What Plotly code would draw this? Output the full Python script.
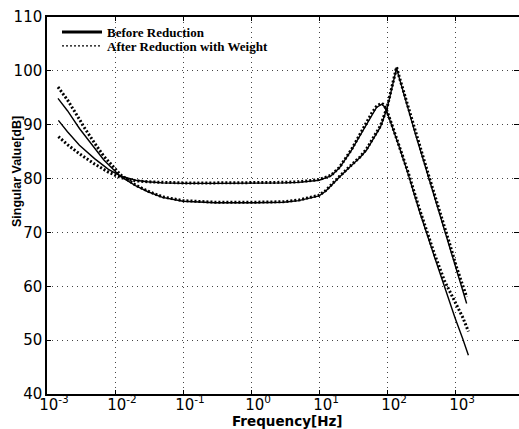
import plotly.graph_objects as go

# ---- data ----
freq_a = [1.47e-3, 2e-3, 3e-3, 5e-3, 8e-3, 1.2e-2, 2e-2, 3e-2, 5e-2, 0.1, 0.3, 1, 3, 5, 10, 15, 20, 30, 40,
          50, 60, 70, 83, 91, 100, 120, 150, 200, 300, 500, 700, 1000, 1300, 1570]
sv1_before = [90.8, 88.7, 86.2, 83.7, 81.7, 80.5, 79.7, 79.4, 79.2, 79.1, 79.1, 79.1, 79.2, 79.3, 79.7, 80.5,
              82.0, 85.3, 88.0, 90.3, 92.0, 93.2, 93.8, 93.4, 92.3, 89.5, 86.0, 81.2, 73.9, 65.4, 59.8, 54.1,
              50.2, 47.2]
sv1_after = [87.8, 86.3, 84.6, 82.7, 81.2, 80.2, 79.6, 79.4, 79.3, 79.2, 79.2, 79.2, 79.3, 79.4, 79.8, 80.6,
             82.1, 85.4, 88.2, 90.5, 92.2, 93.4, 94.0, 93.6, 92.5, 89.7, 86.2, 81.5, 74.3, 65.9, 61.0, 57.0,
             54.2, 51.6]

freq_b = [1.45e-3, 2e-3, 3e-3, 3.4e-3, 5e-3, 6.8e-3, 1.2e-2, 2e-2, 3e-2, 5e-2, 0.1, 0.3, 1, 3, 5, 10, 12.6,
          15.8, 20, 28.6, 40, 50, 63, 80, 100, 112, 126, 138, 151, 178, 219, 269, 339, 427, 537, 676, 851,
          1047, 1259, 1480]
sv2_before = [94.9, 92.6, 89.3, 88.4, 85.5, 83.5, 80.4, 78.7, 77.6, 76.5, 75.8, 75.5, 75.5, 75.6, 75.9, 76.8,
              77.7, 79.0, 80.3, 82.2, 83.9, 85.3, 87.3, 89.6, 93.0, 95.5, 98.2, 100.5, 98.7, 95.5, 91.5, 87.7,
              83.6, 79.4, 75.4, 71.0, 66.9, 63.1, 59.7, 56.8]
sv2_after = [97.0, 94.6, 91.0, 89.8, 86.6, 84.2, 80.7, 78.8, 77.7, 76.6, 75.9, 75.6, 75.6, 75.7, 76.0, 76.9,
             77.8, 79.1, 80.4, 82.3, 84.0, 85.5, 87.5, 89.8, 93.2, 95.7, 98.4, 100.7, 98.9, 95.8, 91.8, 88.0,
             84.0, 79.8, 75.8, 71.5, 67.5, 63.6, 60.5, 58.0]

x_tickvals = [1e-3, 1e-2, 1e-1, 1e0, 1e1, 1e2, 1e3]
x_ticktext = ["10<sup>-3</sup>", "10<sup>-2</sup>", "10<sup>-1</sup>", "10<sup>0</sup>",
              "10<sup>1</sup>", "10<sup>2</sup>", "10<sup>3</sup>"]
y_tickvals = [40, 50, 60, 70, 80, 90, 100, 110]

legend_before = "Before Reduction"
legend_after = "After Reduction with Weight"

SERIF = "Liberation Serif, Times New Roman, serif"
SANS = "Liberation Sans, Arial, sans-serif"
WIDE = "DejaVu Sans, Verdana, sans-serif"

fig = go.Figure()
before_line = dict(color="black", width=1.4)
after_line = dict(color="black", width=3, dash="2px,2px")
fig.add_trace(go.Scatter(x=freq_a, y=sv1_before, mode="lines", name=legend_before, legend="legend",
                         line=before_line, showlegend=False))
fig.add_trace(go.Scatter(x=freq_b, y=sv2_before, mode="lines", name=legend_before, legend="legend",
                         line=before_line, showlegend=False))
fig.add_trace(go.Scatter(x=freq_a, y=sv1_after, mode="lines", name=legend_after, legend="legend2",
                         line=after_line, showlegend=False))
fig.add_trace(go.Scatter(x=freq_b, y=sv2_after, mode="lines", name=legend_after, legend="legend2",
                         line=after_line, showlegend=False))
# legend samples
fig.add_trace(go.Scatter(x=[None], y=[None], mode="lines", name=legend_before, legend="legend",
                         line=dict(color="black", width=3)))
fig.add_trace(go.Scatter(x=[None], y=[None], mode="lines", name=legend_after, legend="legend2",
                         line=dict(color="black", width=1.2, dash="2px,2px")))
# carrier for the right-hand tick marks
fig.add_trace(go.Scatter(x=[None], y=[None], yaxis="y2", showlegend=False, hoverinfo="skip"))

W, H = 519, 429
L, R, T, B = 47, 0, 17, 35
PW, PH = W - L - R, H - T - B

grid = dict(showgrid=True, gridcolor="#444", gridwidth=1, griddash="1px,4px")
fig.update_layout(
    width=W, height=H,
    margin=dict(l=L, r=R, t=T, b=B, pad=0),
    paper_bgcolor="white", plot_bgcolor="white",
    xaxis=dict(type="log", range=[-3, 3.94], tickvals=x_tickvals, ticktext=x_ticktext,
               tickfont=dict(family=WIDE, size=15, color="black"),
               ticklabelshift=7, ticklabelstandoff=-4,
               showline=True, linecolor="black", linewidth=1.5, mirror="ticks",
               ticks="inside", ticklen=4, tickcolor="black", zeroline=False, **grid),
    yaxis=dict(range=[40, 110], tickvals=y_tickvals,
               tickfont=dict(family=WIDE, size=15, color="black"),
               showline=True, linecolor="black", linewidth=1.5, mirror=False,
               ticks="inside", ticklen=4, tickcolor="black", zeroline=False, **grid),
    yaxis2=dict(range=[40, 110], tickvals=y_tickvals, overlaying="y", side="right",
                showticklabels=False, showline=False, showgrid=False, zeroline=False,
                ticks="inside", ticklen=5, tickcolor="black"),
    legend=dict(x=(57 - L) / PW, y=1.0, xanchor="left", yanchor="top",
                bgcolor="rgba(0,0,0,0)", borderwidth=0, itemwidth=40,
                font=dict(family=SERIF, size=13, color="black", weight="bold")),
    legend2=dict(x=(57 - L) / PW, y=1 - (31 - T) / PH, xanchor="left", yanchor="top",
                 bgcolor="rgba(0,0,0,0)", borderwidth=0, itemwidth=40,
                 font=dict(family=SERIF, size=13, color="black", weight="bold")),
    annotations=[
        dict(text="<b>Frequency[Hz]</b>", x=0.5, y=0, xref="paper", yref="paper", xanchor="center",
             yanchor="middle", yshift=-27, xshift=4, showarrow=False,
             font=dict(family=WIDE, size=13.5, color="black")),
        dict(text="<b>Singular Value[dB]</b>", x=0, y=1 - (172 - T) / PH, xref="paper", yref="paper",
             xanchor="center", yanchor="middle", xshift=17 - L, textangle=-90, showarrow=False,
             font=dict(family=SANS, size=12.5, color="black")),
    ],
)

fig.write_html("out.html")
